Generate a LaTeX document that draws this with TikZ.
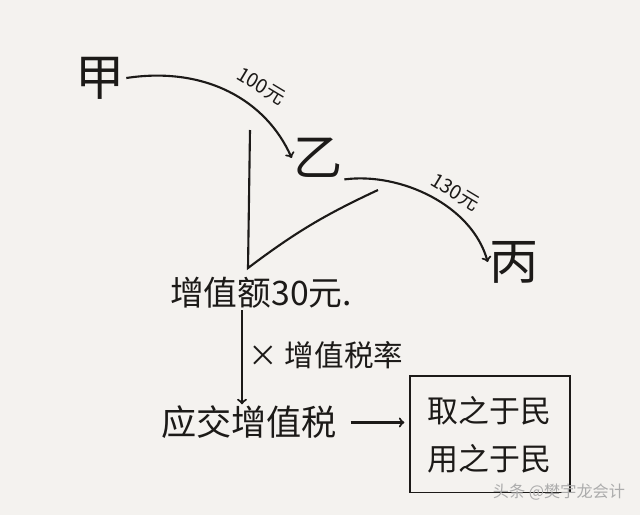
\documentclass[tikz,border=0pt]{standalone}
\usepackage{fontspec}
\usepackage{xcolor}
\usepackage{tikz}
\usetikzlibrary{positioning}
\newfontfamily\cjk{Noto Sans CJK SC}
\definecolor{paper}{RGB}{244,242,239}
\definecolor{ink}{RGB}{28,26,24}

\begin{document}
\begin{tikzpicture}[x=0.025cm, y=-0.025cm,
    party/.style={font=\cjk\fontsize{35}{38}\selectfont, text=ink, inner sep=1pt},
    word/.style={font=\cjk\fontsize{25}{28}\selectfont, text=ink, inner sep=1pt},
    price/.style={font=\cjk\fontsize{14}{16}\selectfont, text=ink, rotate=-31, inner sep=1pt},
    box/.style={rectangle, draw=ink, line width=1.4pt, minimum width=4cm, minimum height=2.9cm, align=center, font=\cjk\fontsize{22}{34}\selectfont, text=ink},
    arrow/.style={->, line width=1.5pt, draw=ink},
    stroke/.style={line width=1.5pt, draw=ink}
]

\fill[paper] (0,0) rectangle (640,515);

\node[party] (jia) at (100,78) {甲};
\node[party] (yi) at (318,158) {乙};
\node[party] (bing) at (514,262) {丙};

\node[price] (p1) at (261,86) {100元};
\node[price] (p2) at (455,192) {130元};

\node[word, font=\cjk\fontsize{24}{26}\selectfont] (added) at (261,293) {增值额30元.};
\node[word, below=2.35cm of added, xshift=-0.3cm] (tax) {应交增值税};
\node[word, font=\cjk\fontsize{21}{23}\selectfont] (rate) at (326,355) {× 增值税率};

\node[box, right=1.75cm of tax, yshift=-3mm] (min) {取之于民\\用之于民};

\node[font=\cjk\fontsize{11.5}{12}\selectfont, text=gray!65] (mark) at (559,492) {头条 @樊宇龙会计};

\coordinate (vtop) at (250,130);
\coordinate (vbot) at (248,268);
\coordinate (vtip) at (378,190);
\coordinate (dn) at (242,0);

\draw[arrow] (jia.east) .. controls (205,66) and (266,100) .. (yi.west);
\draw[arrow] (yi.south east) .. controls (400,172) and (472,205) .. (bing.west);
\draw[stroke] (vtop) -- (vbot) to[bend left=6] (vtip);
\draw[arrow] (added.south -| dn) -- (tax.north -| dn);
\draw[arrow, shorten >=3pt] ([xshift=3mm]tax.east) -- (tax.east -| min.west);

\end{tikzpicture}
\end{document}
